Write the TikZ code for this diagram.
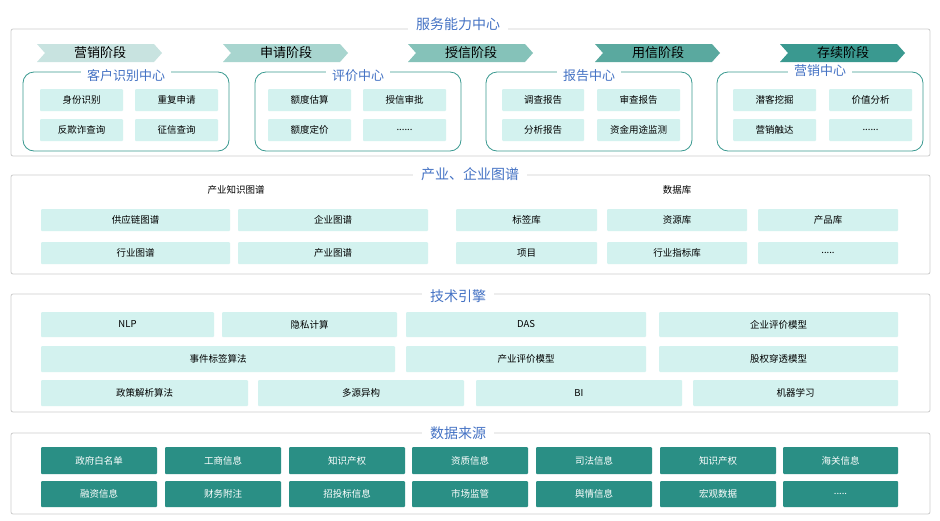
\documentclass[tikz,border=0pt]{standalone}
\usepackage{fontspec}
\setmainfont{Noto Sans CJK SC}
\begin{document}
\definecolor{cell}{HTML}{D3F2EF}
\definecolor{dark}{HTML}{2A8F85}
\definecolor{tealb}{HTML}{3A9990}
\definecolor{ttl}{HTML}{4472C4}
\begin{tikzpicture}[x=1pt,y=-1pt,
 panel/.style={draw=black!20,line width=0.8pt,rounded corners=2pt},
 ptitle/.style={fill=white,text=ttl,font=\fontsize{14}{14}\selectfont,inner xsep=8pt,inner ysep=1pt},
 ctr/.style={draw=tealb,line width=0.8pt,rounded corners=11pt},
 ctitle/.style={fill=white,text=ttl,font=\fontsize{13}{13}\selectfont,inner xsep=6pt,inner ysep=0pt},
 txt/.style={font=\fontsize{9.5}{9.5}\selectfont},
 wtxt/.style={font=\fontsize{9.5}{9.5}\selectfont,text=white},
 stxt/.style={font=\fontsize{13}{13}\selectfont}]
\fill[white] (0,0) rectangle (940,520);
\useasboundingbox (0,0) rectangle (940,520);
\newcommand{\cb}[7]{\fill[#6,rounded corners=1pt] (#1,#2) rectangle (#3,#4); \node[#7] (c#1y#2) at ({(#1+#3)/2},{(#2+#4)/2}) {#5};}
% panel 1
\draw[panel] (11,29) rectangle (930,156);
\node[ptitle] (t1) at (458,24) {服务能力中心};
\foreach \x/\c/\t in {37/C8E3E0/营销阶段,223/A8D5CF/申请阶段,408/85C2B9/授信阶段,595/5AA99F/用信阶段,780/3A9990/存续阶段}{
 \definecolor{chv}{HTML}{\c}
 \fill[chv] (\x,44) -- (\x+117,44) -- (\x+125,53) -- (\x+117,62) -- (\x,62) -- (\x+8,53) -- cycle;
 \node[stxt] (ch\x) at (\x+63,53) {\t};
}
\foreach \a/\b/\t/\ty in {23/229/客户识别中心/76,255/461/评价中心/76,486/692/报告中心/76,717/923/营销中心/71}{
 \draw[ctr] (\a,72) rectangle (\b,151);
 \node[ctitle] (ct\a) at ({(\a+\b)/2},\ty) {\t};
}
\cb{40}{89}{123}{111}{身份识别}{cell}{txt}
\cb{135}{89}{218}{111}{重复申请}{cell}{txt}
\cb{40}{119}{123}{141}{反欺诈查询}{cell}{txt}
\cb{135}{119}{218}{141}{征信查询}{cell}{txt}
\cb{268}{89}{351}{111}{额度估算}{cell}{txt}
\cb{363}{89}{446}{111}{授信审批}{cell}{txt}
\cb{268}{119}{351}{141}{额度定价}{cell}{txt}
\cb{363}{119}{446}{141}{......}{cell}{txt}
\cb{502}{89}{584}{111}{调查报告}{cell}{txt}
\cb{597}{89}{680}{111}{审查报告}{cell}{txt}
\cb{502}{119}{584}{141}{分析报告}{cell}{txt}
\cb{597}{119}{680}{141}{资金用途监测}{cell}{txt}
\cb{733}{89}{816}{111}{潜客挖掘}{cell}{txt}
\cb{829}{89}{912}{111}{价值分析}{cell}{txt}
\cb{733}{119}{816}{141}{营销触达}{cell}{txt}
\cb{829}{119}{912}{141}{......}{cell}{txt}
% panel 2
\draw[panel] (11,175) rectangle (930,274);
\node[ptitle] (t2) at (470,174) {产业、企业图谱};
\node[txt] (s1) at (236,190) {产业知识图谱};
\node[txt] (s2) at (677,190) {数据库};
\cb{41}{209}{230}{231}{供应链图谱}{cell}{txt}
\cb{238}{209}{428}{231}{企业图谱}{cell}{txt}
\cb{41}{242}{230}{264}{行业图谱}{cell}{txt}
\cb{238}{242}{428}{264}{产业图谱}{cell}{txt}
\cb{456}{209}{597}{231}{标签库}{cell}{txt}
\cb{607}{209}{747}{231}{资源库}{cell}{txt}
\cb{758}{209}{898}{231}{产品库}{cell}{txt}
\cb{456}{242}{597}{264}{项目}{cell}{txt}
\cb{607}{242}{747}{264}{行业指标库}{cell}{txt}
\cb{758}{242}{898}{264}{.....}{cell}{txt}
% panel 3
\draw[panel] (11,294) rectangle (930,412);
\node[ptitle] (t3) at (458,296) {技术引擎};
\cb{41}{312}{214}{337}{NLP}{cell}{txt}
\cb{222}{312}{397}{337}{隐私计算}{cell}{txt}
\cb{406}{312}{646}{337}{DAS}{cell}{txt}
\cb{659}{312}{898}{337}{企业评价模型}{cell}{txt}
\cb{41}{346}{395}{372}{事件标签算法}{cell}{txt}
\cb{406}{346}{646}{372}{产业评价模型}{cell}{txt}
\cb{659}{346}{898}{372}{股权穿透模型}{cell}{txt}
\cb{41}{380}{248}{406}{政策解析算法}{cell}{txt}
\cb{258}{380}{464}{406}{多源异构}{cell}{txt}
\cb{476}{380}{682}{406}{BI}{cell}{txt}
\cb{693}{380}{898}{406}{机器学习}{cell}{txt}
% panel 4
\draw[panel] (11,433) rectangle (930,514);
\node[ptitle] (t4) at (458,433) {数据来源};
\foreach \a/\b/\t in {41/157/政府白名单,165/281/工商信息,289/405/知识产权,412/528/资质信息,536/652/司法信息,660/776/知识产权,783/898/海关信息}{
 \fill[dark,rounded corners=1pt] (\a,447) rectangle (\b,474);
 \node[wtxt] (d\a) at ({(\a+\b)/2},460.5) {\t};}
\foreach \a/\b/\t in {41/157/融资信息,165/281/财务附注,289/405/招投标信息,412/528/市场监管,536/652/舆情信息,660/776/宏观数据,783/898/{.....}}{
 \fill[dark,rounded corners=1pt] (\a,481) rectangle (\b,507);
 \node[wtxt] (e\a) at ({(\a+\b)/2},494) {\t};}
\end{tikzpicture}
\end{document}
